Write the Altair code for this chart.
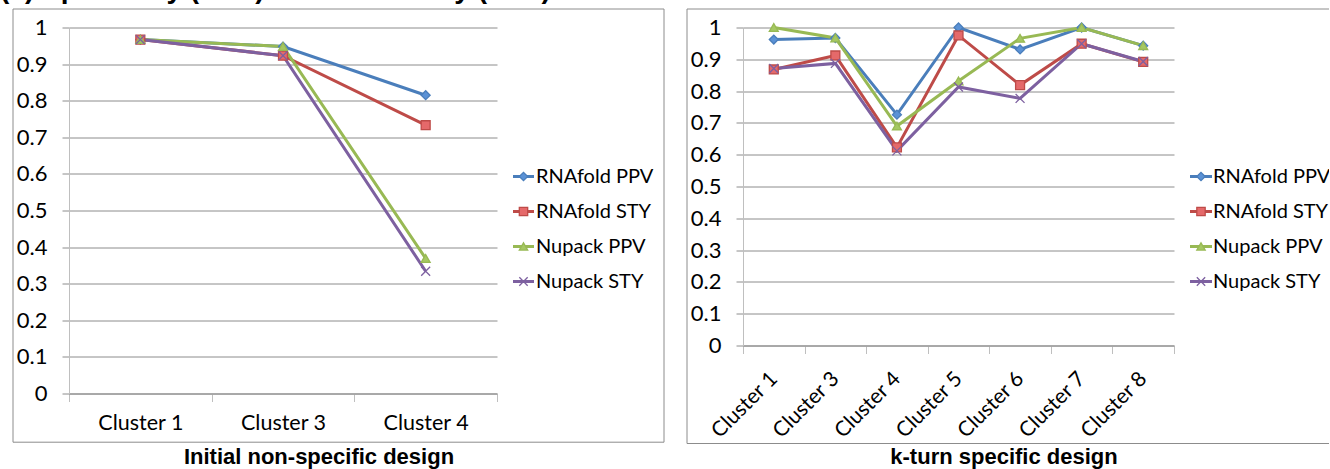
import altair as alt
import pandas as pd

# Series drawn in both panels, in drawing order (later series sit on top)
SERIES = ["RNAfold PPV", "RNAfold STY", "Nupack PPV", "Nupack STY"]
LINE_COLORS = ["#4A7EBB", "#BE4B48", "#98B954", "#7D60A0"]
MARKER_FILLS = ["#5B92D6", "#E5696A", "#A5C862", "#7D60A0"]
MARKER_SHAPES = ["diamond", "square", "triangle-up", "M-1,-1L1,1M-1,1L1,-1"]

# Initial non-specific design
CLUSTERS_INITIAL = ["Cluster 1", "Cluster 3", "Cluster 4"]
INITIAL_RNAFOLD_PPV = [0.967, 0.948, 0.815]
INITIAL_RNAFOLD_STY = [0.967, 0.923, 0.733]
INITIAL_NUPACK_PPV = [0.967, 0.948, 0.369]
INITIAL_NUPACK_STY = [0.967, 0.923, 0.334]

# k-turn specific design
CLUSTERS_KTURN = ["Cluster 1", "Cluster 3", "Cluster 4", "Cluster 5",
                  "Cluster 6", "Cluster 7", "Cluster 8"]
KTURN_RNAFOLD_PPV = [0.962, 0.967, 0.726, 1.000, 0.931, 1.000, 0.943]
KTURN_RNAFOLD_STY = [0.868, 0.912, 0.623, 0.975, 0.819, 0.949, 0.892]
KTURN_NUPACK_PPV = [1.000, 0.967, 0.690, 0.832, 0.966, 1.000, 0.943]
KTURN_NUPACK_STY = [0.871, 0.887, 0.612, 0.813, 0.777, 0.949, 0.893]

Y_TICKS = [0.0, 0.1, 0.2, 0.3, 0.4, 0.5, 0.6, 0.7, 0.8, 0.9, 1.0]

FIGURE_TITLE = "(a) Specificity (PPV) and Sensitivity (STY)"
LABEL_FONT = "Lato"
TITLE_FONT = "Liberation Sans, Arial, sans-serif"
LEGEND_ROWS = [149, 184, 219, 254]


def to_long(clusters, columns):
    records = []
    for name, values in zip(SERIES, columns):
        for cluster, value in zip(clusters, values):
            records.append({"series": name, "cluster": cluster, "value": value})
    return pd.DataFrame(records)


def panel(df, clusters, width, height, rotated, frame, legend_pos, subtitle, subtitle_pos):
    color = alt.Color("series:N", scale=alt.Scale(domain=SERIES, range=LINE_COLORS), legend=None)
    fill = alt.Fill("series:N", scale=alt.Scale(domain=SERIES, range=MARKER_FILLS), legend=None)
    stroke = alt.Stroke("series:N", scale=alt.Scale(domain=SERIES, range=LINE_COLORS), legend=None)
    shape = alt.Shape("series:N", scale=alt.Scale(domain=SERIES, range=MARKER_SHAPES), legend=None)

    if rotated:
        x_axis = alt.Axis(title=None, tickBand="extent", tickSize=8, labelAngle=315,
                          labelAlign="right", labelBaseline="middle", labelPadding=22,
                          domainColor="#8C8C8C", tickColor="#BFBFBF", labelFont=LABEL_FONT,
                          labelFontSize=21, labelColor="#000000")
    else:
        x_axis = alt.Axis(title=None, tickBand="extent", tickSize=8, labelAngle=0,
                          labelPadding=11, domainColor="#8C8C8C", tickColor="#BFBFBF",
                          labelFont=LABEL_FONT, labelFontSize=21.5, labelColor="#000000")
    x = alt.X("cluster:N",
              scale=alt.Scale(type="band", domain=clusters, paddingInner=0, paddingOuter=0),
              axis=x_axis)
    y = alt.Y("value:Q",
              scale=alt.Scale(domain=[0, 1], nice=False),
              axis=alt.Axis(title=None, values=Y_TICKS, format=".1~f", grid=True,
                            gridColor="#8C8C8C", domainColor="#BFBFBF", tickColor="#8C8C8C",
                            tickSize=7, labelPadding=15, labelFont=LABEL_FONT,
                            labelFontSize=22, labelColor="#000000"))

    one = pd.DataFrame({"k": [0]})
    fx0, fx1, fy0, fy1 = frame
    box = alt.Chart(one).mark_rect(fill="transparent", stroke="#8C8C8C", strokeWidth=1).encode(
        x=alt.value(fx0), x2=alt.value(fx1), y=alt.value(fy0), y2=alt.value(fy1))

    base = alt.Chart(df)
    lines = [
        base.transform_filter(alt.datum.series == s)
        .mark_line(strokeWidth=3)
        .encode(x=x, y=y, color=color)
        for s in SERIES
    ]
    markers = base.mark_point(filled=True, size=80, strokeWidth=1.3, opacity=1).encode(
        x=x, y=y, shape=shape, fill=fill, stroke=stroke
    )

    # legend: one keyed row per series to the right of the plot
    line_x0, line_x1, text_x = legend_pos
    leg = alt.Chart(pd.DataFrame({"series": SERIES}))
    legend_layers = []
    for s, row_y in zip(SERIES, LEGEND_ROWS):
        row = leg.transform_filter(alt.datum.series == s)
        legend_layers.append(row.mark_rule(strokeWidth=3).encode(
            x=alt.value(line_x0), x2=alt.value(line_x1), y=alt.value(row_y), color=color))
        legend_layers.append(row.mark_point(filled=True, size=70, strokeWidth=1.3, opacity=1).encode(
            x=alt.value((line_x0 + line_x1) / 2), y=alt.value(row_y),
            shape=shape, fill=fill, stroke=stroke))
        legend_layers.append(row.mark_text(align="left", baseline="middle", font=LABEL_FONT,
                                           fontSize=20, color="#000000").encode(
            x=alt.value(text_x), y=alt.value(row_y), text="series:N"))

    sub = alt.Chart(one).mark_text(text=subtitle, font=TITLE_FONT, fontWeight="bold",
                                   fontSize=22, align="center", baseline="middle",
                                   color="#000000").encode(
        x=alt.value(subtitle_pos[0]), y=alt.value(subtitle_pos[1]))

    return alt.layer(box, *lines, markers, *legend_layers, sub).properties(
        width=width, height=height)


left = panel(to_long(CLUSTERS_INITIAL, [INITIAL_RNAFOLD_PPV, INITIAL_RNAFOLD_STY,
                                        INITIAL_NUPACK_PPV, INITIAL_NUPACK_STY]),
             CLUSTERS_INITIAL, 428, 366, False, (-56, 595, -18.5, 414.7),
             (444, 465, 467), "Initial non-specific design", (250, 429.5))

right = panel(to_long(CLUSTERS_KTURN, [KTURN_RNAFOLD_PPV, KTURN_RNAFOLD_STY,
                                       KTURN_NUPACK_PPV, KTURN_NUPACK_STY]),
              CLUSTERS_KTURN, 431, 318, True, (-56, 600, -18.5, 416),
              (447, 469, 470), "k-turn specific design", (261, 429.5))

chart = (
    alt.hconcat(left, right, spacing=21)
    .properties(
        title=alt.TitleParams(FIGURE_TITLE, anchor="start", font=TITLE_FONT, fontSize=28,
                              fontWeight="bold", color="#000000", offset=4.5, dx=-12),
        padding={"left": 0, "top": -24.5, "right": -15, "bottom": 0},
    )
    .configure_view(stroke="transparent")
)

chart.save("out.html", embed_options={"renderer": "svg", "actions": False})
